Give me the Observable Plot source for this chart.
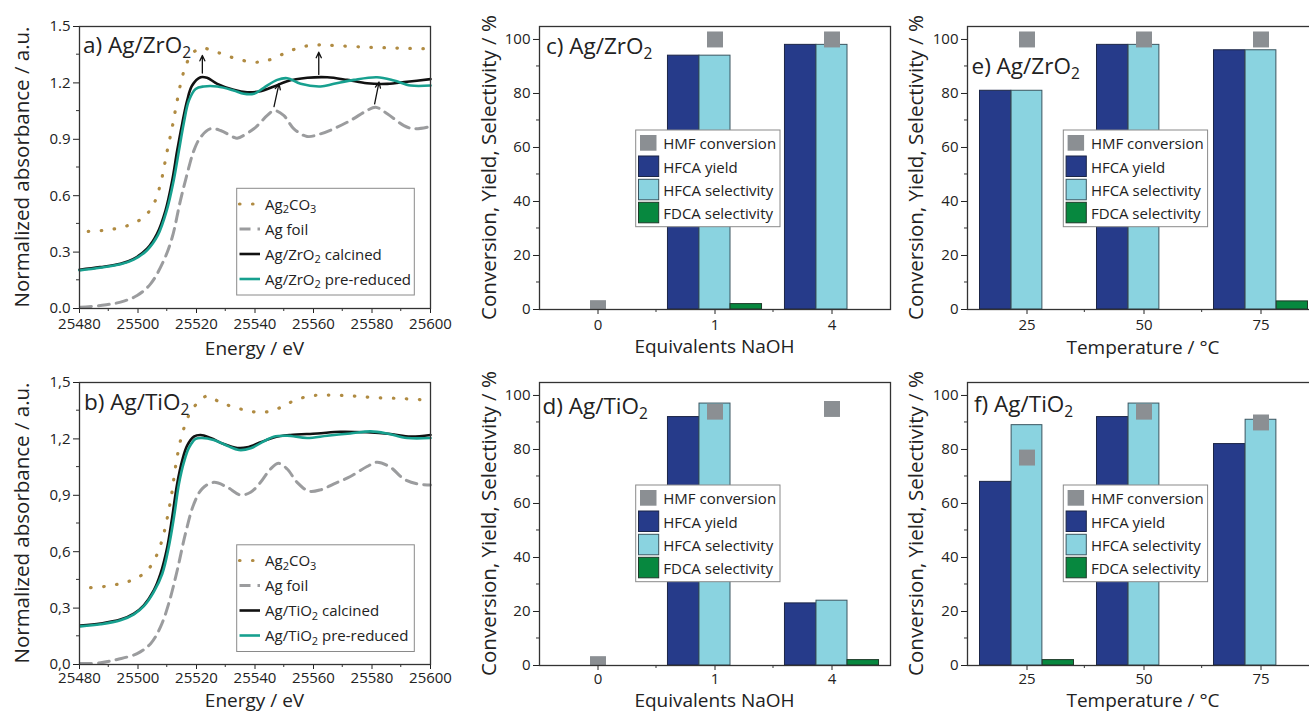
<!DOCTYPE html>
<html>
<head>
<meta charset="utf-8">
<script src="https://cdn.jsdelivr.net/npm/d3@7"></script>
<script src="https://cdn.jsdelivr.net/npm/@observablehq/plot@0.6"></script>
<style>
  html, body { margin: 0; padding: 0; background: #fff; }
  body { width: 1309px; height: 712px; overflow: hidden; position: relative; font-family: "Open Sans", sans-serif; }
  .panel { position: absolute; }
  #overlay { position: absolute; left: 0; top: 0; z-index: 10; pointer-events: none; }
</style>
</head>
<body>
<svg id="overlay" width="1309" height="712"></svg>
<script>
// ---------------- DATA ----------------
// XANES spectra [energy eV, normalized absorbance]
const a_Ag2CO3 = [[25483,0.41],[25489.5,0.418],[25496.3,0.44],[25502,0.486],[25505.4,0.557],[25507.7,0.663],[25510,0.84],[25511.7,0.964],[25513.4,1.106],[25515.1,1.23],[25516.8,1.31],[25519,1.363],[25521.9,1.385],[25527,1.363],[25532.7,1.333],[25539.6,1.31],[25544.2,1.319],[25549.8,1.355],[25555.6,1.39],[25561.2,1.402],[25566.9,1.399],[25578.3,1.39],[25589.7,1.385],[25600,1.381]];
const a_foil = [[25480.3,0.007],[25487.2,0.016],[25494,0.034],[25499.7,0.069],[25504.3,0.131],[25508.8,0.255],[25511.7,0.379],[25514.5,0.574],[25516.8,0.716],[25519.1,0.84],[25521.4,0.911],[25524.8,0.956],[25528.2,0.947],[25532.7,0.911],[25533.9,0.906],[25539.6,0.956],[25544.2,1.027],[25546.5,1.053],[25549.8,1.027],[25553.3,0.956],[25557.8,0.915],[25562.4,0.929],[25566.9,0.956],[25572.6,1.0],[25578.3,1.053],[25581.2,1.071],[25585.2,1.036],[25590.9,0.973],[25594.3,0.956],[25600,0.968]];
const a_calcined = [[25480,0.206],[25487,0.22],[25494,0.238],[25498.5,0.264],[25503.1,0.318],[25506.5,0.397],[25509.4,0.521],[25511.7,0.681],[25513.4,0.84],[25515.1,0.982],[25516.8,1.106],[25518.5,1.186],[25521.4,1.23],[25523.6,1.227],[25527.1,1.195],[25532.7,1.163],[25537.3,1.15],[25541.9,1.156],[25546.5,1.181],[25551,1.209],[25557.9,1.227],[25564.7,1.23],[25571.5,1.216],[25578.3,1.198],[25585.2,1.195],[25592,1.206],[25600,1.22]];
const a_reduced = [[25480,0.203],[25487,0.217],[25494,0.235],[25498.5,0.26],[25503.1,0.31],[25506.8,0.39],[25509.8,0.52],[25512.2,0.681],[25514,0.84],[25515.6,0.982],[25517.4,1.106],[25519.7,1.168],[25522.5,1.181],[25527.1,1.181],[25532.7,1.16],[25536.2,1.142],[25539.6,1.142],[25543,1.174],[25547.6,1.216],[25551,1.225],[25555.6,1.195],[25562.4,1.181],[25567,1.195],[25573.8,1.216],[25581.7,1.23],[25587.5,1.213],[25593.2,1.186],[25600,1.186]];

const b_Ag2CO3 = [[25483.8,0.409],[25489.5,0.417],[25495.2,0.435],[25499.7,0.46],[25503.7,0.51],[25506.6,0.589],[25508.8,0.695],[25510.5,0.819],[25511.7,0.925],[25512.8,1.049],[25514.5,1.19],[25516.2,1.279],[25518.5,1.359],[25521.4,1.403],[25523.6,1.429],[25528.2,1.394],[25533.9,1.364],[25539.6,1.344],[25544.2,1.344],[25548.7,1.367],[25553.3,1.403],[25559,1.429],[25564.7,1.433],[25572.6,1.429],[25580.6,1.42],[25589.7,1.415],[25597.7,1.408],[25600,1.406]];
const b_foil = [[25480.3,0.005],[25487.2,0.009],[25492.9,0.027],[25499.7,0.058],[25504.3,0.111],[25507.7,0.2],[25510.5,0.324],[25513.4,0.5],[25516.2,0.695],[25519.1,0.854],[25521.9,0.934],[25525.9,0.969],[25530.5,0.943],[25535,0.902],[25538.5,0.916],[25541.9,0.969],[25545.3,1.04],[25548.1,1.07],[25551,1.04],[25554.4,0.969],[25558.4,0.922],[25562.4,0.929],[25567,0.961],[25572.6,1.0],[25578.3,1.053],[25581.8,1.076],[25586.3,1.049],[25590.9,0.987],[25595.4,0.961],[25600,0.955]];
const b_calcined = [[25480.3,0.207],[25487.2,0.218],[25494,0.239],[25498.6,0.271],[25502,0.315],[25505.4,0.394],[25507.7,0.483],[25510,0.624],[25511.7,0.784],[25513.4,0.961],[25515.1,1.084],[25516.8,1.164],[25519.1,1.212],[25521.4,1.221],[25524.8,1.205],[25529.3,1.173],[25533.9,1.152],[25537.3,1.155],[25541.9,1.182],[25546.4,1.208],[25552.1,1.221],[25561.3,1.229],[25569.2,1.238],[25578.3,1.235],[25586.3,1.226],[25593.2,1.212],[25600,1.221]];
const b_reduced = [[25480.3,0.203],[25487.2,0.214],[25494,0.235],[25498.6,0.267],[25502,0.31],[25505.4,0.386],[25508.3,0.483],[25510.5,0.624],[25512.3,0.784],[25514,0.961],[25515.7,1.076],[25517.4,1.152],[25519.7,1.2],[25521.9,1.205],[25525.9,1.194],[25530.5,1.164],[25534.5,1.141],[25538.5,1.15],[25543,1.187],[25546.4,1.212],[25551,1.217],[25557.8,1.205],[25564.7,1.217],[25572.6,1.229],[25579.5,1.24],[25585.2,1.229],[25592,1.205],[25600,1.205]];

// arrows in panel a (start energy/abs -> end energy/abs)
const arrowE1 = [25522, 25561.8, 25546.5, 25580.9];
const arrowA1 = [1.252, 1.245, 1.074, 1.089];
const arrowE2 = [25522, 25561.8, 25548.2, 25582.4];
const arrowA2 = [1.346, 1.363, 1.195, 1.204];

// tick labels
const energyTicks = [25480, 25500, 25520, 25540, 25560, 25580, 25600];
const energyMinor = [25490, 25510, 25530, 25550, 25570, 25590];
const absTicks = [0, 0.3, 0.6, 0.9, 1.2, 1.5];
const absMinor = [0.15, 0.45, 0.75, 1.05, 1.35];
const pctTicks = [0, 20, 40, 60, 80, 100];
const pctMinor = [10, 30, 50, 70, 90];

// catalysis results
const naohCats = ["0", "1", "4"];
const tempCats = ["25", "50", "75"];
const c_hmf = [0.5, 100, 100];
const c_yield = [0, 94, 98];
const c_sel = [0, 94, 98];
const c_fdca = [0, 2, 0];
const d_hmf = [0.5, 94, 95];
const d_yield = [0, 92, 23];
const d_sel = [0, 97, 24];
const d_fdca = [0, 0, 2];
const e_hmf = [100, 100, 100];
const e_yield = [81, 98, 96];
const e_sel = [81, 98, 96];
const e_fdca = [0, 0, 3];
const f_hmf = [77, 94, 90];
const f_yield = [68, 92, 82];
const f_sel = [89, 97, 91];
const f_fdca = [2, 0, 0];

// ---------------- STYLE ----------------
const C_CO3 = "#b08b42", C_FOIL = "#9b9c9e", C_CALC = "#111111", C_RED = "#17a08f";
const C_HMF = "#8b8f93", C_YIELD = "#263b8a", C_SEL = "#8ad3e0", C_FDCA = "#07883f";
const FRAME = "#333";
const baseStyle = {fontFamily: "Open Sans", fontSize: "15px", color: "#222", background: "transparent", overflow: "visible", maxWidth: "none"};

function place(chart, left, top) {
  const div = document.createElement("div");
  div.className = "panel";
  div.style.left = left + "px";
  div.style.top = top + "px";
  div.appendChild(chart);
  document.body.appendChild(div);
}

function addMinor(chart, xMinorVals, yMinorVals) {
  const svg = d3.select(chart);
  const sx = chart.scale("x"), sy = chart.scale("y");
  const yb = sy.range[0];
  const xl = sx.range[0];
  const g = svg.append("g").attr("stroke", FRAME).attr("stroke-width", 1);
  let xs;
  if (sx.type === "band") {
    const band = d3.scaleBand(sx.domain, sx.range).padding(0);
    xs = sx.domain.slice(1).map(c => band(c));
  } else {
    const lin = d3.scaleLinear(sx.domain, sx.range);
    xs = xMinorVals.map(lin);
  }
  xs.forEach(px => g.append("line").attr("x1", px).attr("x2", px).attr("y1", yb).attr("y2", yb + 3));
  const liny = d3.scaleLinear(sy.domain, sy.range);
  yMinorVals.forEach(v => { const py = liny(v); g.append("line").attr("x1", xl - 3).attr("x2", xl).attr("y1", py).attr("y2", py); });
}

function toRows(arr) { return arr.map(([e, a]) => ({e, a})); }

function xanesPanel(co3, foil, calc, red, fmt, withArrows, pad) {
  const marks = [
    Plot.line(toRows(co3), {x: "e", y: "a", stroke: C_CO3, strokeWidth: 3.2, strokeDasharray: "0.5 12.5", strokeLinecap: "round", curve: "catmull-rom"}),
    Plot.line(toRows(foil), {x: "e", y: "a", stroke: C_FOIL, strokeWidth: 3, strokeDasharray: "11 7", curve: "catmull-rom"}),
    Plot.line(toRows(calc), {x: "e", y: "a", stroke: C_CALC, strokeWidth: 2.6, curve: "catmull-rom"}),
    Plot.line(toRows(red), {x: "e", y: "a", stroke: C_RED, strokeWidth: 2.6, curve: "catmull-rom"})
  ];
  if (withArrows) {
    const arr = arrowE1.map((e, i) => ({x1: e, y1: arrowA1[i], x2: arrowE2[i], y2: arrowA2[i]}));
    marks.push(Plot.arrow(arr, {x1: "x1", y1: "y1", x2: "x2", y2: "y2", stroke: "#111", strokeWidth: 1.3, headLength: 7, headAngle: 50}));
  }
  marks.push(Plot.frame({stroke: FRAME, strokeWidth: 1.3}));
  const chart = Plot.plot({
    width: 440, height: 356,
    marginLeft: 79, marginRight: 10, marginTop: 26, marginBottom: 48,
    style: baseStyle,
    x: {domain: [25480, 25600], ticks: energyTicks, tickFormat: d => String(d), tickSize: 5, tickPadding: pad, label: null},
    y: {domain: [0, 1.5], ticks: absTicks, tickFormat: fmt, tickSize: 6, tickPadding: 3, label: null},
    marks
  });
  addMinor(chart, energyMinor, absMinor);
  return chart;
}

function barPanel(cats, hmf, yld, sel, fdca, width, pad) {
  const rows = cats.map((c, i) => ({c, hmf: hmf[i], yld: yld[i], sel: sel[i], fdca: fdca[i]}));
  const ml = 99, mr = 10;
  const bw = (width - ml - mr) / cats.length;
  const edge = bw * 0.098, inner = bw * 0.3675;
  const yieldR = bw - (edge + bw * 0.2692);
  const chart = Plot.plot({
    width, height: 356,
    marginLeft: ml, marginRight: mr, marginTop: 26, marginBottom: 47,
    style: baseStyle,
    x: {type: "band", domain: cats, padding: 0, tickSize: 5, tickPadding: pad, label: null},
    y: {domain: [0, 104.8], ticks: pctTicks, tickSize: 6, tickPadding: 3, label: null},
    marks: [
      Plot.barY(rows, {filter: d => d.yld > 0, x: "c", y: "yld", fill: C_YIELD, stroke: "#1b2547", strokeWidth: 1, insetLeft: edge, insetRight: yieldR}),
      Plot.barY(rows, {filter: d => d.sel > 0, x: "c", y: "sel", fill: C_SEL, stroke: "#3a5560", strokeWidth: 1, insetLeft: inner, insetRight: inner}),
      Plot.barY(rows, {filter: d => d.fdca > 0, x: "c", y: "fdca", fill: C_FDCA, stroke: "#1d3a28", strokeWidth: 1, insetLeft: yieldR, insetRight: edge}),
      Plot.dot(rows, {x: "c", y: "hmf", symbol: "square", r: 9, fill: C_HMF, stroke: "none", clip: true}),
      Plot.frame({stroke: FRAME, strokeWidth: 1.3})
    ]
  });
  addMinor(chart, [], pctMinor);
  return chart;
}

const fmtDot = d => d.toFixed(1);
const fmtComma = d => d.toFixed(1).replace(".", ",");

place(xanesPanel(a_Ag2CO3, a_foil, a_calcined, a_reduced, fmtDot, true, 5), 0, 0);
place(xanesPanel(b_Ag2CO3, b_foil, b_calcined, b_reduced, fmtComma, false, 2.5), 0, 356);
place(barPanel(naohCats, c_hmf, c_yield, c_sel, c_fdca, 460, 5), 440, 0);
place(barPanel(naohCats, d_hmf, d_yield, d_sel, d_fdca, 460, 2.5), 440, 356);
place(barPanel(tempCats, e_hmf, e_yield, e_sel, e_fdca, 461, 5), 868, 0);
place(barPanel(tempCats, f_hmf, f_yield, f_sel, f_fdca, 461, 2.5), 868, 356);

// ---------------- OVERLAY TEXT / LEGENDS ----------------
const ov = d3.select("#overlay").style("font-family", "'Open Sans', sans-serif").attr("fill", "#222");

function rich(sel, parts, big, small, shift) {
  parts.forEach(([t, sub], i) => {
    const ts = sel.append("tspan").text(t);
    if (sub) ts.attr("font-size", small).attr("dy", shift);
    else {
      ts.attr("font-size", big);
      if (i > 0 && parts[i - 1][1]) ts.attr("dy", -shift);
    }
  });
  return sel;
}

// axis titles
const xTitles = [
  ["Energy / eV", 254.5, 355], ["Energy / eV", 254.5, 706.5],
  ["Equivalents NaOH", 714.5, 353], ["Equivalents NaOH", 714.5, 706.5],
  ["Temperature / °C", 1143, 353.5], ["Temperature / °C", 1143, 706.5]
];
xTitles.forEach(([t, x, y]) => ov.append("text").attr("x", x).attr("y", y).attr("text-anchor", "middle").attr("font-size", 19).text(t));
const yTitles = [
  ["Normalized absorbance / a.u.", 28.5, 167], ["Normalized absorbance / a.u.", 28.5, 523],
  ["Conversion, Yield, Selectivity / %", 496, 167.5], ["Conversion, Yield, Selectivity / %", 496, 523.5],
  ["Conversion, Yield, Selectivity / %", 923, 167.5], ["Conversion, Yield, Selectivity / %", 923, 523.5]
];
yTitles.forEach(([t, x, y]) => ov.append("text").attr("transform", `translate(${x},${y}) rotate(-90)`).attr("text-anchor", "middle").attr("font-size", 20.5).text(t));

// panel labels
const panelLabels = [
  [[["a) Ag/ZrO", 0], ["2", 1]], 83, 53],
  [[["b) Ag/TiO", 0], ["2", 1]], 84, 410],
  [[["c) Ag/ZrO", 0], ["2", 1]], 546, 54],
  [[["d) Ag/TiO", 0], ["2", 1]], 542.5, 414],
  [[["e) Ag/ZrO", 0], ["2", 1]], 971.5, 74],
  [[["f) Ag/TiO", 0], ["2", 1]], 974, 411.5]
];
panelLabels.forEach(([parts, x, y]) => rich(ov.append("text").attr("x", x).attr("y", y), parts, 22.5, 15.5, 5));

// XANES legends
function xanesLegend(dy, mat) {
  const g = ov.append("g").attr("transform", `translate(0,${dy})`);
  g.append("rect").attr("x", 236.7).attr("y", 188.3).attr("width", 177.6).attr("height", 106.7).attr("fill", "#fff").attr("stroke", "#8a8a8a").attr("stroke-width", 1);
  const items = [
    {parts: [["Ag", 0], ["2", 1], ["CO", 0], ["3", 1]], stroke: C_CO3, w: 3.2, dash: "0.5 12.5", cap: "round"},
    {parts: [["Ag foil", 0]], stroke: C_FOIL, w: 3, dash: "11 7", cap: "butt"},
    {parts: [["Ag/" + mat, 0], ["2", 1], [" calcined", 0]], stroke: C_CALC, w: 2.6, dash: null, cap: "butt"},
    {parts: [["Ag/" + mat, 0], ["2", 1], [" pre-reduced", 0]], stroke: C_RED, w: 2.6, dash: null, cap: "butt"}
  ];
  items.forEach((it, i) => {
    const by = 209.5 + 25 * i;
    const ln = g.append("line").attr("x1", 239.5).attr("x2", 260).attr("y1", by - 5.5).attr("y2", by - 5.5)
      .attr("stroke", it.stroke).attr("stroke-width", it.w).attr("stroke-linecap", it.cap);
    if (it.dash) ln.attr("stroke-dasharray", it.dash);
    rich(g.append("text").attr("x", 265).attr("y", by), it.parts, 15, 11, 3.5);
  });
}
xanesLegend(0, "ZrO");
xanesLegend(356.5, "TiO");

// Bar legends
function barLegend(dx, dy) {
  const g = ov.append("g").attr("transform", `translate(${dx},${dy})`);
  g.append("rect").attr("x", 635.7).attr("y", 130).attr("width", 144.3).attr("height", 96.7).attr("fill", "#fff").attr("stroke", "#8a8a8a").attr("stroke-width", 1);
  g.append("rect").attr("x", 640).attr("y", 135).attr("width", 16.5).attr("height", 15.7).attr("fill", C_HMF);
  const sw = [[C_YIELD, "#1b2547", 156], [C_SEL, "#3a5560", 179.3], [C_FDCA, "#1d3a28", 202.3]];
  sw.forEach(([f, s, y]) => g.append("rect").attr("x", 638.5).attr("y", y).attr("width", 20.2).attr("height", 20.5).attr("fill", f).attr("stroke", s).attr("stroke-width", 1));
  ["HMF conversion", "HFCA yield", "HFCA selectivity", "FDCA selectivity"].forEach((t, i) =>
    g.append("text").attr("x", 663.3).attr("y", 149.3 + 23.3 * i).attr("font-size", 15).text(t));
}
barLegend(0, 0);
barLegend(0, 355);
barLegend(427.6, 0);
barLegend(427.6, 355);
</script>
</body>
</html>
